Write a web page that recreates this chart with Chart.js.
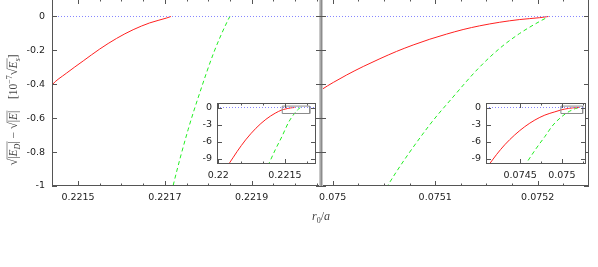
<!DOCTYPE html>
<html>
<head>
<meta charset="utf-8">
<script src="https://cdn.jsdelivr.net/npm/chart.js@4.4.0/dist/chart.umd.min.js"></script>
<style>
    html, body { margin: 0; padding: 0; background: #fff; overflow: hidden; }
    #wrap { position: relative; width: 598px; height: 267px; overflow: hidden; background: #fff; }
    canvas { position: absolute; left: 0; top: -1px; }
</style>
</head>
<body>
<div id="wrap">
    <canvas id="mainL" width="598" height="268"></canvas>
    <canvas id="mainR" width="598" height="268"></canvas>
    <canvas id="insetL" width="598" height="268"></canvas>
    <canvas id="insetR" width="598" height="268"></canvas>
</div>
<script>
// left branch (r0/a ~ 0.2217)
const leftRedX = [0.220195, 0.220253, 0.220424, 0.220615, 0.220846, 0.221070, 0.221280, 0.221439, 0.221473, 0.221512, 0.221550, 0.221589, 0.221627, 0.221665, 0.221704, 0.221714];
const leftRedY = [-10.3, -9.7, -7.7, -5.67, -3.64, -2.08, -1.0, -0.406, -0.335, -0.262, -0.192, -0.129, -0.078, -0.038, -0.009, 0];
const leftGreenX = [0.221117, 0.221147, 0.221283, 0.221432, 0.221585, 0.221719, 0.221754, 0.221781, 0.221813, 0.221845, 0.221850];
const leftGreenY = [-10.2, -9.7, -7.4, -5.1, -2.55, -1.0, -0.665, -0.447, -0.212, -0.024, 0];

// right branch (r0/a ~ 0.0752)
const rightRedX = [0.074110, 0.074135, 0.074215, 0.074315, 0.074435, 0.074555, 0.074676, 0.074796, 0.074916, 0.0749893, 0.0750006, 0.0750136, 0.0750298, 0.0750461, 0.0750623, 0.0750785, 0.0750947, 0.0751110, 0.0751272, 0.0751434, 0.0751629, 0.0751824, 0.0752019, 0.0752104];
const rightRedY = [-10.3, -9.83, -8.27, -6.53, -4.80, -3.36, -2.20, -1.33, -0.76, -0.431, -0.389, -0.345, -0.295, -0.249, -0.206, -0.168, -0.134, -0.104, -0.077, -0.055, -0.034, -0.018, -0.007, 0];
const rightGreenX = [0.074548, 0.074576, 0.074696, 0.074796, 0.074895, 0.074996, 0.0750534, 0.0750931, 0.0751174, 0.0751418, 0.0751629, 0.0751824, 0.0752019, 0.0752097];
const rightGreenY = [-10.3, -9.7, -7.1, -5.1, -3.07, -1.63, -1.0, -0.651, -0.475, -0.308, -0.188, -0.100, -0.029, -0.004];

// axes
const mainYRange = [-1, 0.1032];
const mainYTicks = [0, -0.2, -0.4, -0.6, -0.8, -1];
const leftXRange = [0.22144, 0.22206];
const leftXTicks = [0.2215, 0.2217, 0.2219];
const leftXMinor = [0.22155, 0.2216, 0.22165, 0.22175, 0.2218, 0.22185, 0.22195, 0.222, 0.22205];
const rightXRange = [0.0749886, 0.07525];
const rightXTicks = [0.075, 0.0751, 0.0752];
const rightXMinor = [0.075025, 0.07505, 0.075075, 0.075125, 0.07515, 0.075175, 0.075225];

const insetYRange = [-9.9, 0.79];
const insetYTicks = [0, -3, -6, -9];
const zoomBoxY = [-1.05, 0.25];
const leftInsetXRange = [0.21997, 0.2222];
const leftInsetXTicks = [0.22, 0.2215];
const leftInsetXMinor = [0.2205, 0.221, 0.222];
const rightInsetXRange = [0.07409, 0.07529];
const rightInsetXTicks = [0.0745, 0.075];
const rightInsetXMinor = [0.07475, 0.07525];

const TICK_FONT = { family: 'DejaVu Sans', size: 9.5 };
const TEXT = '#222';
const FRAME = '#555';

const pts = (xs, ys) => xs.map((x, i) => ({ x, y: ys[i] }));

function curve(xs, ys, color, dash) {
    return {
        data: pts(xs, ys), borderColor: color, borderWidth: 1, borderDash: dash || [],
        pointRadius: 0, showLine: true, fill: false, cubicInterpolationMode: 'monotone', clip: 0
    };
}

function zeroLine(range) {
    return {
        data: [{ x: range[0], y: 0 }, { x: range[1], y: 0 }],
        borderColor: '#8686ff', borderWidth: 1, borderDash: [1, 2], pointRadius: 0, showLine: true, clip: 0
    };
}

function zoomBox(range) {
    const [x0, x1] = range, [y0, y1] = zoomBoxY;
    return {
        data: [{ x: x0, y: y1 }, { x: x1, y: y1 }, { x: x1, y: y0 }, { x: x0, y: y0 }, { x: x0, y: y1 }],
        borderColor: '#8a8a8a', borderWidth: 1, pointRadius: 0, showLine: true, clip: 0
    };
}

// frame + inward ticks on all four sides (gnuplot look)
const framePlugin = {
    id: 'frame',
    beforeDraw(chart, args, o) {
        if (!o.fill) return;
        const a = chart.chartArea, c = chart.ctx;
        c.save();
        c.fillStyle = '#fff';
        c.fillRect(a.left, a.top, a.right - a.left, a.bottom - a.top);
        c.restore();
    },
    afterDatasetsDraw(chart, args, o) {
        const a = chart.chartArea, c = chart.ctx, sx = chart.scales.x, sy = chart.scales.y;
        const seg = (x1, y1, x2, y2) => { c.moveTo(x1, y1); c.lineTo(x2, y2); };
        const ypix = v => Math.round(sy.getPixelForValue(v)) + 0.5;
        c.save();
        c.strokeStyle = FRAME;
        c.lineWidth = 1;
        c.beginPath();
        const xt = (v, len) => {
            const p = Math.round(sx.getPixelForValue(v)) + 0.5;
            seg(p, a.bottom, p, a.bottom - len);
            seg(p, a.top, p, a.top + len);
        };
        const yt = (v, len) => {
            const p = ypix(v);
            seg(a.left, p, a.left + len, p);
            seg(a.right, p, a.right - len, p);
        };
        o.xMajor.forEach(v => xt(v, 5));
        o.xMinor.forEach(v => xt(v, 2.5));
        o.yMajor.forEach(v => yt(v, 5));
        c.stroke();
        c.strokeRect(a.left + 0.5, a.top + 0.5, a.right - a.left - 1, a.bottom - a.top - 1);
        if (o.sep) {
            // shared border between the two panels: light band, darker core
            c.fillStyle = '#c8c8c8';
            c.fillRect(a.left - 2, a.top, 4, a.bottom - a.top);
            c.fillStyle = '#8c8c8c';
            c.fillRect(a.left - 0.5, a.top, 1.5, a.bottom - a.top);
            c.beginPath();
            o.yMajor.forEach(v => { const p = ypix(v); seg(a.left - 5, p, a.left + 5, p); });
            c.stroke();
        }
        c.restore();
    }
};

function fontOf(r) {
    return (r.it ? 'italic ' : '') + (r.size || 11.5) + 'px "Liberation Serif", serif';
}

function drawRuns(c, runs, cx, by) {
    let w = 0;
    runs.forEach(r => { c.font = fontOf(r); r.w = c.measureText(r.t).width; w += r.w; });
    let x = cx - w / 2;
    const bars = {};
    runs.forEach(r => {
        c.font = fontOf(r);
        c.fillText(r.t, x, by + (r.dy || 0));
        if (r.bar) {
            bars[r.bar] = bars[r.bar] || [x, x];
            bars[r.bar][1] = x + r.w;
        }
        x += r.w;
    });
    c.lineWidth = 0.6;
    c.beginPath();
    Object.values(bars).forEach(([x0, x1]) => { c.moveTo(x0 - 0.5, by - 10); c.lineTo(x1, by - 10); });
    c.stroke();
}

const titlePlugin = {
    id: 'titles',
    afterDraw(chart) {
        const c = chart.ctx;
        c.save();
        c.fillStyle = '#444';
        c.strokeStyle = '#444';
        c.textBaseline = 'alphabetic';
        c.translate(17, 111);
        c.rotate(-Math.PI / 2);
        drawRuns(c, [
            { t: '√', size: 12.5 },
            { t: '|', bar: 1 }, { t: 'E', it: 1, bar: 1 }, { t: 'D', it: 1, size: 8, dy: 2.5, bar: 1 }, { t: '|', bar: 1 },
            { t: ' − ' },
            { t: '√', size: 12.5 },
            { t: '|', bar: 2 }, { t: 'E', it: 1, bar: 2 }, { t: '|', bar: 2 },
            { t: '    ' },
            { t: '[' }, { t: '10' }, { t: '−7', size: 8, dy: -5 },
            { t: '√', size: 12.5 }, { t: 'E', it: 1, bar: 3 }, { t: 's', it: 1, size: 8, dy: 2.5, bar: 3 },
            { t: ']' }
        ], 0, 0);
        c.restore();
        c.save();
        c.fillStyle = '#444';
        drawRuns(c, [
            { t: 'r', it: 1, size: 12 }, { t: '0', size: 8, dy: 2.5 }, { t: '/', size: 12 }, { t: 'a', it: 1, size: 12 }
        ], 321, 221);
        c.restore();
    }
};

function panel(id, cfg) {
    return new Chart(document.getElementById(id), {
        type: 'scatter',
        data: { datasets: cfg.datasets },
        options: {
            responsive: false,
            animation: false,
            devicePixelRatio: 1,
            events: [],
            layout: { padding: cfg.pad },
            plugins: {
                legend: { display: false },
                tooltip: { enabled: false },
                frame: cfg.frame
            },
            scales: {
                x: {
                    type: 'linear', position: 'bottom', min: cfg.xRange[0], max: cfg.xRange[1],
                    grid: { display: false, drawTicks: false }, border: { display: false },
                    afterBuildTicks: s => { s.ticks = cfg.frame.xMajor.map(v => ({ value: v })); },
                    afterFit: s => { s.height = cfg.xh; s.paddingLeft = 0; s.paddingRight = 0; },
                    ticks: { font: TICK_FONT, color: TEXT, padding: cfg.xpad, autoSkip: false, maxRotation: 0, callback: v => String(v) }
                },
                y: {
                    type: 'linear', position: 'left', display: cfg.showY, min: cfg.yRange[0], max: cfg.yRange[1],
                    grid: { display: false, drawTicks: false }, border: { display: false },
                    afterBuildTicks: s => { s.ticks = cfg.frame.yMajor.map(v => ({ value: v })); },
                    afterFit: s => { s.width = cfg.yw; s.paddingTop = 0; s.paddingBottom = 0; },
                    ticks: { font: TICK_FONT, color: TEXT, padding: cfg.ypad, autoSkip: false, callback: v => String(v) }
                }
            }
        },
        plugins: cfg.extra ? [framePlugin, cfg.extra] : [framePlugin]
    });
}

panel('mainL', {
    datasets: [zeroLine(leftXRange), curve(leftRedX, leftRedY, '#ff2020'), curve(leftGreenX, leftGreenY, '#22ee22', [4, 3])],
    xRange: leftXRange, yRange: mainYRange, showY: true,
    pad: { left: 0, right: 277, top: 0, bottom: 51 }, xh: 30, yw: 52, xpad: 6, ypad: 7,
    frame: { xMajor: leftXTicks, xMinor: leftXMinor, yMajor: mainYTicks },
    extra: titlePlugin
});

panel('mainR', {
    datasets: [zeroLine(rightXRange), curve(rightRedX, rightRedY, '#ff2020'), curve(rightGreenX, rightGreenY, '#22ee22', [4, 3])],
    xRange: rightXRange, yRange: mainYRange, showY: false,
    pad: { left: 321, right: 9, top: 0, bottom: 51 }, xh: 30, yw: 0, xpad: 6, ypad: 7,
    frame: { xMajor: rightXTicks, xMinor: rightXMinor, yMajor: mainYTicks, sep: true }
});

panel('insetL', {
    datasets: [zeroLine(leftInsetXRange), zoomBox(leftXRange), curve(leftRedX, leftRedY, '#ff2020'), curve(leftGreenX, leftGreenY, '#22ee22', [4, 3])],
    xRange: leftInsetXRange, yRange: insetYRange, showY: true,
    pad: { left: 187, right: 282, top: 104, bottom: 83 }, xh: 20, yw: 30, xpad: 6, ypad: 5,
    frame: { xMajor: leftInsetXTicks, xMinor: leftInsetXMinor, yMajor: insetYTicks, fill: true }
});

panel('insetR', {
    datasets: [zeroLine(rightInsetXRange), zoomBox(rightXRange), curve(rightRedX, rightRedY, '#ff2020'), curve(rightGreenX, rightGreenY, '#22ee22', [4, 3])],
    xRange: rightInsetXRange, yRange: insetYRange, showY: true,
    pad: { left: 456, right: 12, top: 104, bottom: 83 }, xh: 20, yw: 30, xpad: 6, ypad: 5,
    frame: { xMajor: rightInsetXTicks, xMinor: rightInsetXMinor, yMajor: insetYTicks, fill: true }
});
</script>
</body>
</html>
